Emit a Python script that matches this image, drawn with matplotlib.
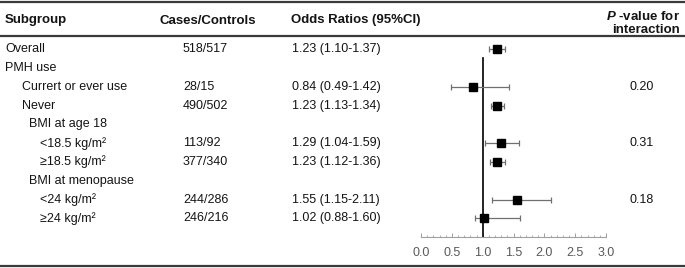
# forest plot of odds ratios by subgroup, table on the left and CI plot on the right

import numpy as np
import matplotlib.pyplot as plt

plt.rcParams['font.family'] = ['Liberation Sans', 'DejaVu Sans']
plt.rcParams['mathtext.fontset'] = 'custom'
plt.rcParams['mathtext.bfit'] = 'Liberation Sans:italic:bold'

# table rows (indent level 0/1/2)
labels = ['Overall', 'PMH use', 'Currert or ever use', 'Never', 'BMI at age 18',
          '<18.5 kg/m²', '≥18.5 kg/m²', 'BMI at menopause', '<24 kg/m²', '≥24 kg/m²']
indent = [0, 0, 1, 1, 1.4, 2, 2, 1.4, 2, 2]
cases = ['518/517', '', '28/15', '490/502', '', '113/92', '377/340', '', '244/286', '246/216']
odds = [1.23, np.nan, 0.84, 1.23, np.nan, 1.29, 1.23, np.nan, 1.55, 1.02]
ci_low = [1.10, np.nan, 0.49, 1.13, np.nan, 1.04, 1.12, np.nan, 1.15, 0.88]
ci_high = [1.37, np.nan, 1.42, 1.34, np.nan, 1.59, 1.36, np.nan, 2.11, 1.60]
p_inter = ['', '', '0.20', '', '', '0.31', '', '', '0.18', '']
x_ticks = [0.0, 0.5, 1.0, 1.5, 2.0, 2.5, 3.0]

W, H = 685, 268
row0, row_h = 49.3, 18.78  # pixel y of first row and row spacing


def px_to_row(y):
    """convert a pixel y position into row units"""
    return (y - row0) / row_h


fig = plt.figure(figsize=(W / 100, H / 100), dpi=100)
ylim = (px_to_row(H), px_to_row(0))

# table axes over the whole figure, x in pixels, y in rows
tab = fig.add_axes([0, 0, 1, 1])
tab.set_xlim(0, W)
tab.set_ylim(*ylim)
tab.axis('off')

txt = '#141414'
hdr_y = px_to_row(20.5)
tab.text(5, hdr_y, 'Subgroup', fontsize=9.5, fontweight='bold', color=txt, va='center')
tab.text(160, hdr_y, 'Cases/Controls', fontsize=9.5, fontweight='bold', color=txt, va='center')
tab.text(291, hdr_y, 'Odds Ratios (95%CI)', fontsize=9.5, fontweight='bold', color=txt, va='center')
tab.text(680, px_to_row(19.5), r'$\mathbfit{P}$ -value for', fontsize=9.5, fontweight='bold',
         color=txt, va='baseline', ha='right')
tab.text(680, px_to_row(33), 'interaction', fontsize=9.5, fontweight='bold', color=txt,
         va='baseline', ha='right')

for r in range(len(labels)):
    tab.text(5 + indent[r] * 17.5, r, labels[r], fontsize=9, color=txt, va='center')
    tab.text(183, r, cases[r], fontsize=9, color=txt, va='center')
    if not np.isnan(odds[r]):
        tab.text(292, r, '%.2f (%.2f-%.2f)' % (odds[r], ci_low[r], ci_high[r]),
                 fontsize=9, color=txt, va='center')
    tab.text(642, r, p_inter[r], fontsize=9, color=txt, va='center', ha='center')

# horizontal rules
tab.axhline(px_to_row(2), color='#3a3a3a', lw=1.6)
tab.axhline(px_to_row(35.8), color='#3a3a3a', lw=1.6)
tab.axhline(px_to_row(265.5), color='#3a3a3a', lw=1.6)

# forest axes, same rows, x in odds ratio units
ax = fig.add_axes([421 / W, 0, 185 / W, 1])
ax.set_xlim(0, 3)
ax.set_ylim(*ylim)
ax.patch.set_alpha(0)
for s in ['top', 'left', 'right']:
    ax.spines[s].set_visible(False)
ax.spines['bottom'].set_position(('data', 10))
ax.spines['bottom'].set_color('#a0a0a0')
ax.spines['bottom'].set_linewidth(0.8)
ax.set_yticks([])
ax.set_xticks(x_ticks)
ax.set_xticklabels(['%.1f' % t for t in x_ticks])
ax.set_xticks(np.arange(0, 3.01, 0.1), minor=True)
ax.tick_params(axis='x', which='major', direction='in', length=2.6, width=0.7,
               color='#a0a0a0', labelsize=9, labelcolor='#595959', pad=7)
ax.tick_params(axis='x', which='minor', direction='in', length=1.8, width=0.6, color='#a0a0a0')

ax.plot([1, 1], [px_to_row(58), 10], color='black', lw=1.2, zorder=2)

rows = np.arange(len(labels))
odds = np.array(odds)
ci_low = np.array(ci_low)
ci_high = np.array(ci_high)
ok = ~np.isnan(odds)
ax.errorbar(odds[ok], rows[ok], xerr=[odds[ok] - ci_low[ok], ci_high[ok] - odds[ok]],
            fmt='none', ecolor='#707070', elinewidth=0.9, capsize=2.5, capthick=0.9, zorder=3)
ax.plot(odds[ok], rows[ok], 's', color='black', ms=6, zorder=4)

fig.savefig('out.png', dpi=100)
